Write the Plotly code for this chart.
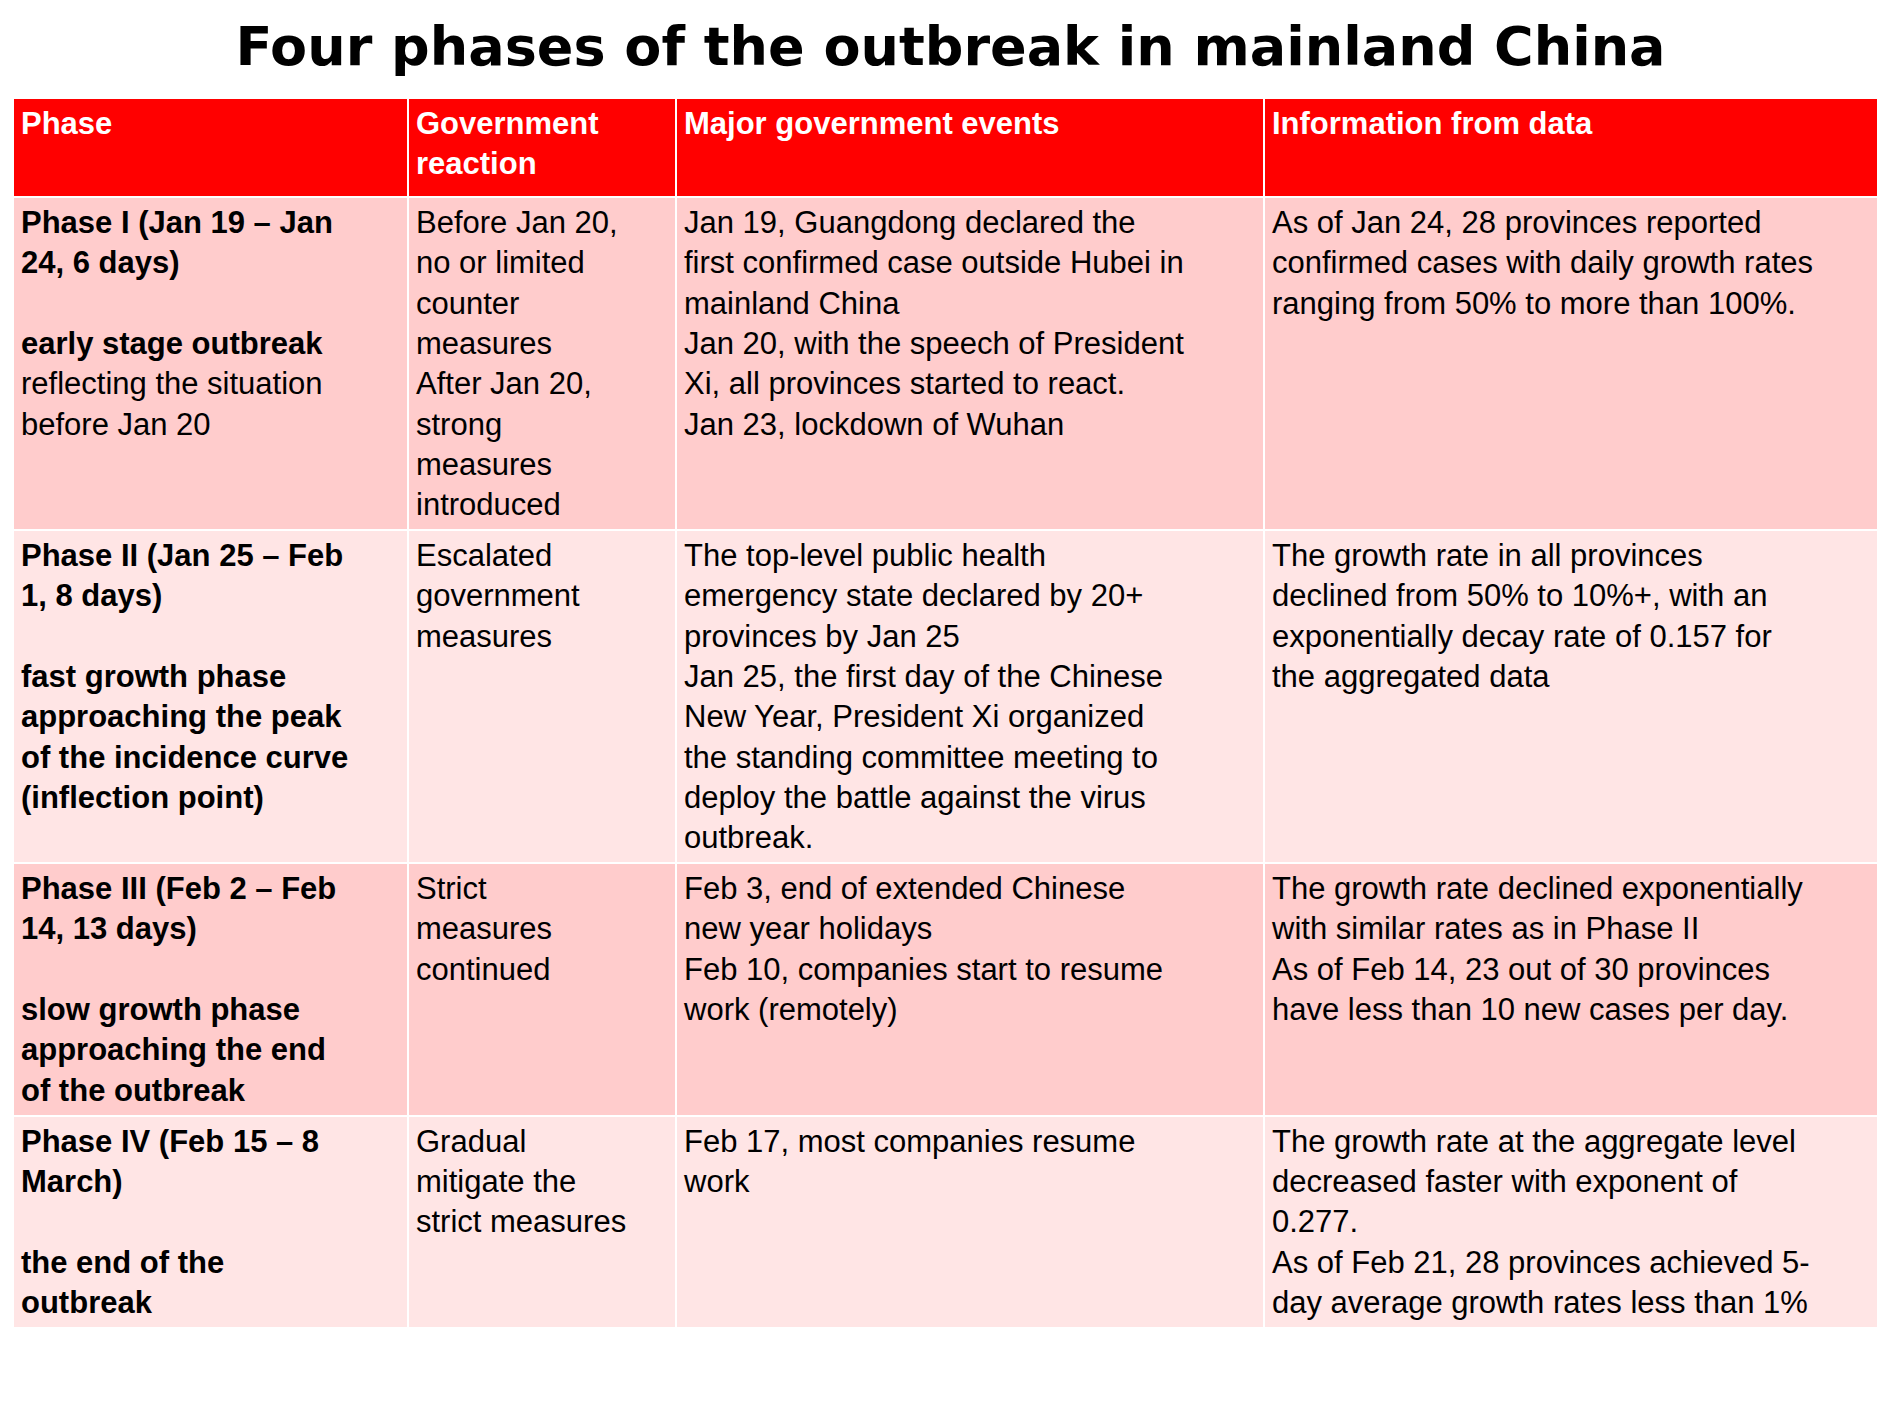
import plotly.graph_objects as go

headers = ["<b>Phase</b>", "<b>Government<br>reaction</b>", "<b>Major government events</b>", "<b>Information from data</b>"]

phase = [
    "<b>Phase I (Jan 19 – Jan<br>24, 6 days)</b><br><br><b>early stage outbreak</b><br>reflecting the situation<br>before Jan 20",
    "<b>Phase II (Jan 25 – Feb<br>1, 8 days)</b><br><br><b>fast growth phase<br>approaching the peak<br>of the incidence curve<br>(inflection point)</b>",
    "<b>Phase III (Feb 2 – Feb<br>14, 13 days)</b><br><br><b>slow growth phase<br>approaching the end<br>of the outbreak</b>",
    "<b>Phase IV (Feb 15 – 8<br>March)</b><br><br><b>the end of the<br>outbreak</b><br>",
]
reaction = [
    "Before Jan 20,<br>no or limited<br>counter<br>measures<br>After Jan 20,<br>strong<br>measures<br>introduced",
    "Escalated<br>government<br>measures",
    "Strict<br>measures<br>continued",
    "Gradual<br>mitigate the<br>strict measures",
]
events = [
    "Jan 19, Guangdong declared the<br>first confirmed case outside Hubei in<br>mainland China<br>Jan 20, with the speech of President<br>Xi, all provinces started to react.<br>Jan 23, lockdown of Wuhan",
    "The top-level public health<br>emergency state declared by 20+<br>provinces by Jan 25<br>Jan 25, the first day of the Chinese<br>New Year, President Xi organized<br>the standing committee meeting to<br>deploy the battle against the virus<br>outbreak.",
    "Feb 3, end of extended Chinese<br>new year holidays<br>Feb 10, companies start to resume<br>work (remotely)",
    "Feb 17, most companies resume<br>work",
]
info = [
    "As of Jan 24, 28 provinces reported<br>confirmed cases with daily growth rates<br>ranging from 50% to more than 100%.",
    "The growth rate in all provinces<br>declined from 50% to 10%+, with an<br>exponentially decay rate of 0.157 for<br>the aggregated data",
    "The growth rate declined exponentially<br>with similar rates as in Phase II<br>As of Feb 14, 23 out of 30 provinces<br>have less than 10 new cases per day.",
    "The growth rate at the aggregate level<br>decreased faster with exponent of<br>0.277.<br>As of Feb 21, 28 provinces achieved 5-<br>day average growth rates less than 1%",
]

row_colors = ["#FFCCCC", "#FFE5E5", "#FFCCCC", "#FFE5E5"]

fig = go.Figure(go.Table(
    domain=dict(x=[5/1885, 1], y=[0, 1 - 90/1427]),
    columnwidth=[395, 268, 588, 629],
    header=dict(values=headers, fill_color="#FF0000", align="left",
                font=dict(family="Liberation Sans, Arial", size=31, color="white"),
                line=dict(color="white", width=2), height=99),
    cells=dict(values=[phase, reaction, events, info],
               fill_color=[row_colors] * 4, align="left",
               font=dict(family="Liberation Sans, Arial", size=31, color="black"),
               line=dict(color="white", width=2), height=44),
))
fig.update_layout(
    width=1885, height=1427, margin=dict(l=0, r=0, t=0, b=0),
    paper_bgcolor="white",
    title=dict(text="<b>Four phases of the outbreak in mainland China</b>",
               x=0.5, xanchor="center", y=1 - 38/1427, yanchor="middle",
               font=dict(family="DejaVu Sans", size=54, color="black")),
)
fig.write_html("out.html")
